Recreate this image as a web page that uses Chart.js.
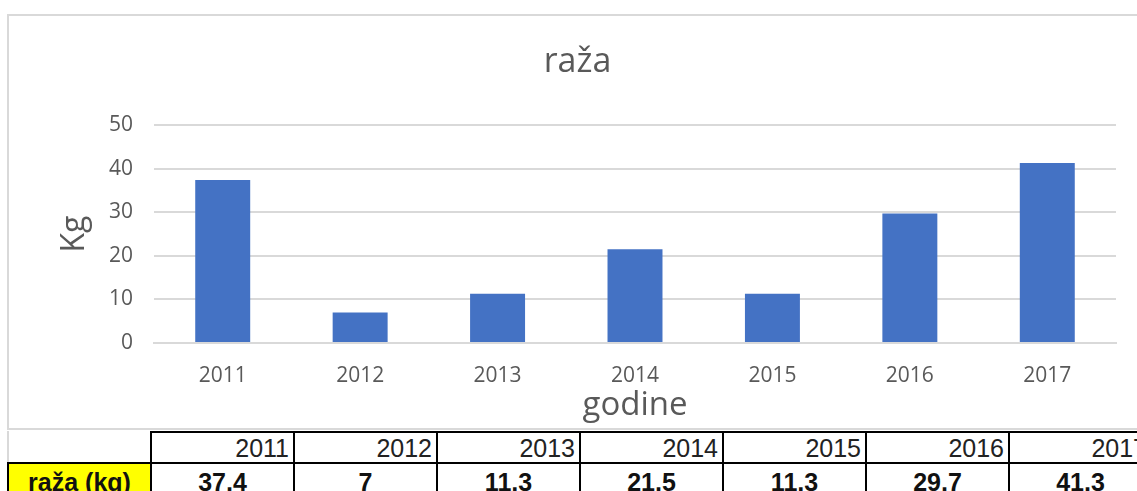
<!DOCTYPE html>
<html>
<head>
<meta charset="utf-8">
<script src="https://cdn.jsdelivr.net/npm/chart.js@4.4.1/dist/chart.umd.min.js"></script>
<style>
  html, body { margin: 0; padding: 0; background: #fff; overflow: hidden; width: 1137px; height: 491px; position: relative; }
  #frame { position: absolute; left: 7px; top: 14px; width: 1200px; height: 412px; border: 2px solid #d9d9d9; box-sizing: content-box; }
  #c { position: absolute; left: 0; top: 0; }
  .cell { position: absolute; box-sizing: border-box; font-family: "Liberation Sans", Arial, sans-serif; font-size: 25px; color: #111; white-space: nowrap; overflow: hidden; }
</style>
</head>
<body>
<div id="frame"></div>
<canvas id="c" width="1155" height="430"></canvas>
<div id="tbl"></div>
<script>
const title = "raža";
const xTitle = "godine";
const yTitle = "Kg";
const categories = ["2011", "2012", "2013", "2014", "2015", "2016", "2017"];
const values = [37.4, 7, 11.3, 21.5, 11.3, 29.7, 41.3];
const yTicks = [0, 10, 20, 30, 40, 50];
const rowLabel = "raža (kg)";

const grey = "#595959";
new Chart(document.getElementById("c"), {
  type: "bar",
  data: {
    labels: categories,
    datasets: [{ data: values, backgroundColor: "#4472C4", borderWidth: 0, categoryPercentage: 1, barPercentage: 0.4, yAxisID: "y" }]
  },
  options: {
    responsive: false,
    animation: false,
    devicePixelRatio: 1,
    layout: { padding: 0 },
    plugins: {
      legend: { display: false },
      tooltip: { enabled: false },
      title: { display: true, text: title, color: grey, font: { family: "Open Sans", size: 34, weight: "normal", lineHeight: 1.2 }, padding: { top: 42, bottom: 42.2 } }
    },
    scales: {
      x: {
        grid: { display: false, drawTicks: false },
        border: { display: true, color: "#d9d9d9", width: 2 },
        afterFit: (s) => { s.height = 87; },
        ticks: { color: grey, font: { family: "Open Sans", size: 21 }, padding: 20, maxRotation: 0 },
        title: { display: true, text: xTitle, color: grey, font: { family: "Open Sans", size: 33, lineHeight: 1.0 }, padding: { top: 0, bottom: 8 } }
      },
      y: {
        min: 0, max: 50,
        afterBuildTicks: (s) => { s.ticks = yTicks.map(v => ({ value: v })); },
        afterFit: (s) => { s.width = 154; },
        grid: { color: "#d9d9d9", lineWidth: 2, drawTicks: false },
        border: { display: false },
        ticks: { color: grey, font: { family: "Open Sans", size: 21 }, padding: 21 },
        title: { display: true, text: yTitle, color: grey, font: { family: "Open Sans", size: 32, lineHeight: 1.2 }, padding: { top: 56, bottom: 0 } }
      },
      yRight: {
        type: "linear", position: "right", min: 0, max: 50,
        afterFit: (s) => { s.width = 39; },
        grid: { display: false, drawTicks: false },
        border: { display: false },
        ticks: { display: false }
      }
    }
  }
});

// data table below the chart
const tbl = document.getElementById("tbl");
const colW = 143, x0 = 7, firstW = 143, top1 = 431, top2 = 462, rowH = 31;
function cell(x, y, w, h, text, style) {
  const d = document.createElement("div");
  d.className = "cell";
  d.style.left = x + "px"; d.style.top = y + "px"; d.style.width = w + "px"; d.style.height = h + "px";
  Object.assign(d.style, style || {});
  d.textContent = text;
  tbl.appendChild(d);
}
// header row
cell(x0, top1, firstW + 2, rowH + 2, "", { borderLeft: "2px solid #d9d9d9" });
categories.forEach((c, i) => {
  cell(x0 + firstW + i * colW, top1, colW + 2, rowH + 2, c, { border: "2px solid #000", textAlign: "right", paddingRight: "4px", lineHeight: "30px", color: "#222" });
});
// value row
cell(x0, top2, firstW + 2, 40, rowLabel, { border: "2px solid #000", background: "#ffff00", fontWeight: "bold", textAlign: "center", lineHeight: "36px" });
values.forEach((v, i) => {
  cell(x0 + firstW + i * colW, top2, colW + 2, 40, String(v).replace(".", ","), { border: "2px solid #000", fontWeight: "bold", textAlign: "center", lineHeight: "36px" });
});
</script>
</body>
</html>
